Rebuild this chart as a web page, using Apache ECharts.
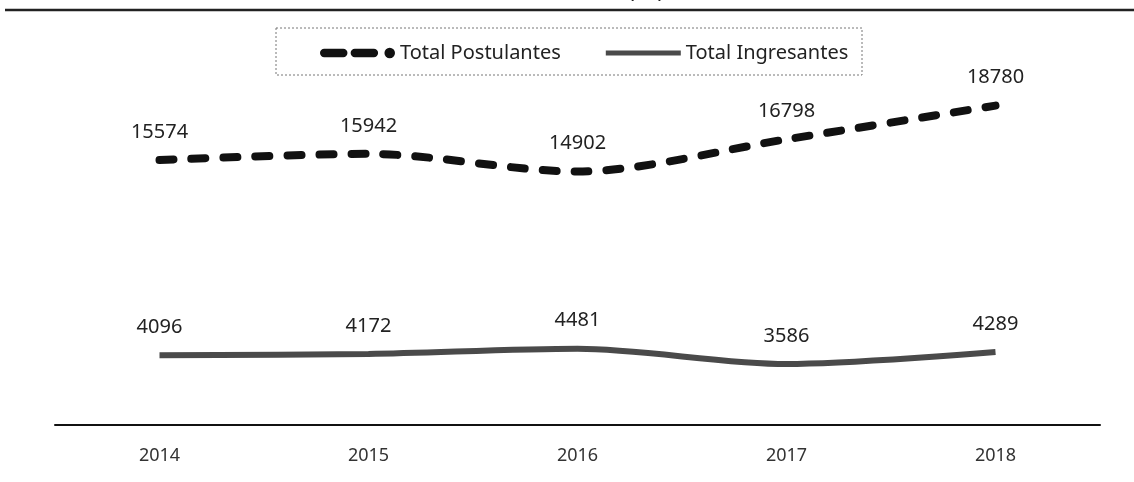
<!DOCTYPE html>
<html>
<head>
<meta charset="utf-8">
<script src="https://cdn.jsdelivr.net/npm/echarts@6/dist/echarts.min.js"></script>
<style>
  html, body { margin: 0; padding: 0; background: #fff; }
  #chart { width: 1134px; height: 482px; }
</style>
</head>
<body>
<div id="chart"></div>
<script>
const years = ["2014", "2015", "2016", "2017", "2018"];
const postulantes = [15574, 15942, 14902, 16798, 18780];
const ingresantes = [4096, 4172, 4481, 3586, 4289];

const chart = echarts.init(document.getElementById("chart"), null, { renderer: "canvas" });
const font = "Noto Sans";

// legend glyphs: dash-dash-dot for postulantes, flat grey bar for ingresantes
const dashIcon = "path://M4,2 H22 A4,4 0 0 1 22,10 H4 A4,4 0 0 1 4,2 Z M33,2 H51 A4,4 0 0 1 51,10 H33 A4,4 0 0 1 33,2 Z M66,1 A5,5 0 1 1 66,11 A5,5 0 1 1 66,1 Z";
const barIcon = "path://M0,0 H72 V5 H0 Z";

const labelStyle = { show: true, position: "top", distance: 18, fontFamily: font, fontSize: 20, color: "#222" };

chart.setOption({
  backgroundColor: "#ffffff",
  animation: false,
  textStyle: { fontFamily: font },
  grid: { left: 55, right: 34, top: 10, bottom: 57 },
  legend: {
    top: 38,
    left: 315,
    itemWidth: 75,
    itemHeight: 12,
    itemGap: 45,
    symbolKeepAspect: true,
    textStyle: { fontFamily: font, fontSize: 20, color: "#222" },
    data: [
      { name: "Total Postulantes", icon: dashIcon },
      { name: "Total Ingresantes", icon: barIcon },
    ],
  },
  graphic: [
    { type: "line", shape: { x1: 5, y1: 10, x2: 1134, y2: 10 }, style: { stroke: "#222", lineWidth: 2.5 } },
    // bottom edge of the cut-off title
    { type: "text", left: 628, top: -19, style: { text: "(    )", fontFamily: font, fontSize: 22, fill: "#222" } },
    { type: "rect", shape: { x: 276, y: 28, width: 586, height: 47 },
      style: { fill: "none", stroke: "#777", lineWidth: 1, lineDash: [2, 2] } },
  ],
  xAxis: {
    type: "category",
    data: years,
    boundaryGap: true,
    axisLine: { lineStyle: { color: "#111", width: 2 } },
    axisTick: { show: false },
    axisLabel: { fontFamily: font, fontSize: 18, color: "#333", margin: 22 },
  },
  yAxis: {
    type: "value",
    min: 0,
    max: 24400,
    show: false,
    splitLine: { show: false },
  },
  series: [
    {
      name: "Total Postulantes",
      type: "line",
      data: postulantes,
      smooth: 0.3,
      showSymbol: true,
      symbol: "circle",
      symbolSize: 0.1,
      color: "#111",
      lineStyle: { color: "#111", width: 8, type: [14, 18], cap: "round" },
      label: labelStyle,
    },
    {
      name: "Total Ingresantes",
      type: "line",
      data: ingresantes,
      smooth: 0.3,
      showSymbol: true,
      symbol: "circle",
      symbolSize: 0.1,
      color: "#4a4a4a",
      lineStyle: { color: "#4a4a4a", width: 6 },
      label: labelStyle,
    },
  ],
});
</script>
</body>
</html>
